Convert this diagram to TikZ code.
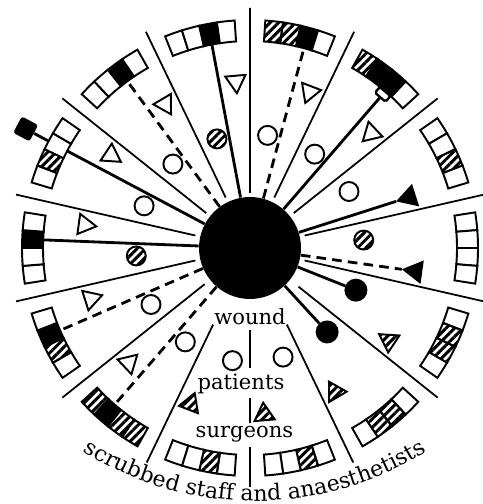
\documentclass[tikz,border=0pt]{standalone}
\usepackage{fontspec}
\setmainfont{DejaVu Serif}
\usetikzlibrary{shapes.geometric,patterns.meta,decorations.text}

% one cell of a staff box, between two angles on the rim
\newcommand{\rimcell}[3]{%
  \draw[cell,#3] (#1:207) arc[start angle=#1, end angle=#2, radius=207]
    -- (#2:228) arc[start angle=#2, end angle=#1, radius=228] -- cycle;}
% staff box: four cells round angle #1, coordinate #6 where a line meets it
\newcommand{\staffbox}[6]{%
  \rimcell{#1+9}{#1+4.5}{#2}\rimcell{#1+4.5}{#1}{#3}%
  \rimcell{#1}{#1-4.5}{#4}\rimcell{#1-4.5}{#1-9}{#5}%
  \coordinate (#6) at (#1-2.25:207);\coordinate (#6o) at (#1-2.25:228);}

\begin{document}
\begin{tikzpicture}[x=0.02cm, y=0.02cm,
  every node/.style={font=\fontsize{12}{14}\selectfont},
  spoke/.style={line width=1pt},
  cell/.style={draw, line width=1.1pt},
  clean/.style={fill=white},
  carrier/.style={pattern={Lines[angle=45, distance=3.4pt, line width=1.7pt]}},
  source/.style={fill=black},
  patient/.style={circle, draw, line width=1.1pt, inner sep=0pt, minimum size=0.38cm},
  surgeon/.style={regular polygon, regular polygon sides=3, draw, line width=1.1pt,
    inner sep=0pt, minimum size=0.47cm},
  tab/.style={rectangle, draw, fill=white, line width=1.3pt, rounded corners=1pt,
    inner sep=0pt, minimum width=0.28cm, minimum height=0.15cm},
  outsider/.style={rectangle, fill=black, rounded corners=1.5pt, inner sep=0pt, minimum size=0.37cm},
  link/.style={line width=1.6pt},
  guess/.style={line width=1.6pt, dash pattern=on 5.5pt off 3.5pt},
  lbl/.style={anchor=base, inner sep=0pt}
]
  \useasboundingbox (0,0) rectangle (483,504);
  \begin{scope}[shift={(250,256)}]

  % spokes
  \draw[spoke] (90:55) -- (90:240) (64.29:56) -- (64.29:240) (38.57:56) -- (38.57:240)
    (12.86:56) -- (12.86:240) (-12.86:56) -- (-12.86:240) (-38.57:62) -- (-38.57:240)
    (-64.29:85) -- (-64.29:238) (-115.71:85) -- (-115.71:238) (-141.43:58) -- (-141.43:240)
    (-167.14:56) -- (-167.14:240) (167.14:56) -- (167.14:240) (141.43:56) -- (141.43:240)
    (115.71:56) -- (115.71:240);
  \draw[spoke] (-90:82) -- (-90:120) (-90:150) -- (-90:175) (-90:199) -- (-90:239);

  \node[circle, fill=black, inner sep=0pt, minimum size=2.04cm] (wound) at (0,0) {};

  % labels
  \node[lbl] (woundtxt) at (0,-77) {wound};
  \node[lbl] (patienttxt) at (-9,-142) {patients};
  \node[lbl] (surgeontxt) at (-5.5,-190) {surgeons};
  \path[decorate, decoration={text along path, text align=center,
    text={|\fontsize{12.5}{14}\selectfont|scrubbed staff and anaesthetists}}]
    (5,69) ++(-150:322) arc[start angle=-150, end angle=-30, radius=322];

  % sector 1
  \node[patient] (p1) at (81.14:114) {};
  \node[surgeon, rotate=159.14] (s1) at (69.14:167) {};
  \staffbox{77.14}{carrier}{carrier}{source}{clean}{b1}
  \draw[guess] (wound) -- (b1);

  % sector 2
  \node[patient] (p2) at (55.43:114) {};
  \node[surgeon, rotate=133.43] (s2) at (43.43:167) {};
  \staffbox{51.43}{carrier}{source}{source}{clean}{b2}
  \node[tab, rotate=-40.82] (t2) at (49.18:203) {};
  \draw[link] (wound) -- (t2);

  % sector 3
  \node[patient] (p3) at (29.71:114) {};
  \node[surgeon, source, rotate=107.71] (s3) at (17.71:167) {};
  \staffbox{25.71}{clean}{clean}{carrier}{clean}{b3}
  \draw[link] (wound) -- (s3);

  % sector 4
  \node[patient, carrier] (p4) at (4:114) {};
  \node[surgeon, source, rotate=82] (s4) at (-8:167) {};
  \staffbox{0}{clean}{clean}{clean}{clean}{b4}
  \draw[guess] (wound) -- (s4);

  % sector 5
  \node[patient, source, minimum size=0.42cm] (p5) at (-21.71:114) {};
  \node[surgeon, carrier, rotate=56.29] (s5) at (-33.71:167) {};
  \staffbox{-25.71}{clean}{carrier}{carrier}{clean}{b5}
  \draw[link] (wound) -- (p5);

  % sector 6
  \node[patient, source, minimum size=0.42cm] (p6) at (-47.43:114) {};
  \node[surgeon, carrier, rotate=30.57] (s6) at (-59.43:167) {};
  \staffbox{-51.43}{clean}{carrier}{carrier}{clean}{b6}
  \draw[link] (wound) -- (p6);

  % sector 7
  \node[patient] (p7) at (-73.14:114) {};
  \node[surgeon, carrier, rotate=4.86] (s7) at (-85.14:167) {};
  \staffbox{-77.14}{clean}{carrier}{clean}{clean}{b7}

  % sector 8
  \node[patient] (p8) at (-98.86:114) {};
  \node[surgeon, carrier, rotate=-20.86] (s8) at (-110.86:167) {};
  \staffbox{-102.86}{clean}{carrier}{clean}{clean}{b8}

  % sector 9
  \node[patient] (p9) at (-124.57:114) {};
  \node[surgeon, rotate=-46.57] (s9) at (-136.57:167) {};
  \staffbox{-128.57}{carrier}{carrier}{source}{carrier}{b9}
  \draw[guess] (wound) -- (b9);

  % sector 10
  \node[patient] (p10) at (-150.29:114) {};
  \node[surgeon, rotate=-72.29] (s10) at (-162.29:167) {};
  \staffbox{-154.29}{clean}{carrier}{source}{clean}{b10}
  \draw[guess] (wound) -- (b10);

  % sector 11
  \node[patient, carrier] (p11) at (184:114) {};
  \node[surgeon, rotate=262] (s11) at (172:167) {};
  \staffbox{180}{clean}{clean}{source}{clean}{b11}
  \draw[link] (wound) -- (b11);

  % sector 12
  \node[patient] (p12) at (158.29:114) {};
  \node[surgeon, rotate=236.29] (s12) at (146.29:167) {};
  \staffbox{154.29}{clean}{carrier}{clean}{clean}{b12}
  \node[outsider, rotate=62] (o12) at (152.04:254) {};
  \draw[link] (wound) -- (b12) (b12o) -- (o12);

  % sector 13
  \node[patient] (p13) at (132.57:114) {};
  \node[surgeon, rotate=210.57] (s13) at (120.57:167) {};
  \staffbox{128.57}{clean}{clean}{source}{clean}{b13}
  \draw[guess] (wound) -- (b13);

  % sector 14
  \node[patient, carrier] (p14) at (106.86:114) {};
  \node[surgeon, rotate=184.86] (s14) at (94.86:167) {};
  \staffbox{102.86}{clean}{clean}{source}{clean}{b14}
  \draw[link] (wound) -- (b14);

  \end{scope}
\end{tikzpicture}
\end{document}
